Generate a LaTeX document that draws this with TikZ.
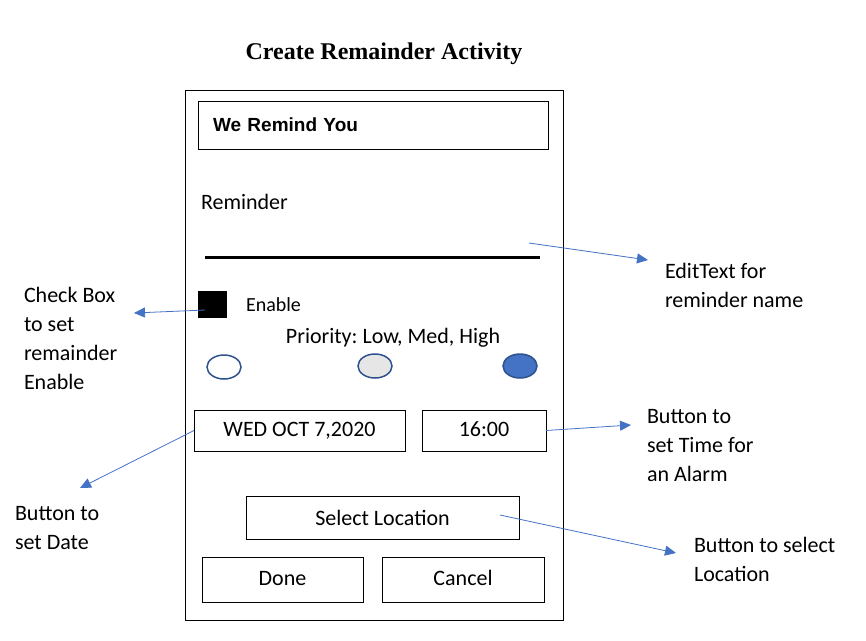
\documentclass[tikz,border=0pt]{standalone}
\usepackage{fontspec}
\setmainfont{Carlito}
\newfontfamily\titlefont{Liberation Serif}
\newfontfamily\headfont{Liberation Sans}
\usetikzlibrary{arrows.meta,shapes.geometric}
\definecolor{accblue}{HTML}{4472C4}
\definecolor{rimblue}{HTML}{2F528F}
\definecolor{radiogray}{HTML}{E7E6E6}
\frenchspacing
\begin{document}
\begin{tikzpicture}[x=1pt,y=-1pt,
  every node/.style={inner sep=0pt, outer sep=0pt},
  uibox/.style={draw=black, line width=1pt, minimum width=#1},
  btntext/.style={font=\fontsize{22}{26}\selectfont},
  lbl/.style={align=left, anchor=west, font=\fontsize{22}{29}\selectfont},
  radio/.style={ellipse, draw=rimblue, line width=1.5pt, minimum width=34pt, minimum height=24pt},
  arr/.style={draw=accblue, line width=0.8pt, -{Triangle[length=11pt,width=10pt]}}
]
\useasboundingbox (0,0) rectangle (866,640);

% title
\node[font=\titlefont\bfseries\fontsize{24}{28}\selectfont] (title) at (384,54) {Create Remainder Activity};

% phone frame
\node[uibox=378pt, minimum height=530pt] (frame) at (374,355) {};

% header box
\node[uibox=350pt, minimum height=48pt, text width=320pt, inner xsep=15pt, align=left,
      font=\headfont\bfseries\fontsize{19}{22}\selectfont] (head) at (373,125) {We Remind You};

\node[btntext, anchor=west] (remtxt) at (201,202) {Reminder};
\coordinate (lineL) at (205,257);
\coordinate (lineR) at (540,257);
\draw[line width=3pt] (lineL) -- (lineR);

% checkbox
\node[draw=black, fill=black, minimum width=28pt, minimum height=26pt] (chk) at (212,304) {};
\node[font=\fontsize{20}{24}\selectfont, anchor=west] (enable) at (246,305) {Enable};
\node[btntext] (prio) at (393,338) {Priority: Low, Med, High};

% radio buttons
\node[radio, fill=white] (r1) at (224,367) {};
\node[radio, fill=radiogray] (r2) at (375,366) {};
\node[radio, fill=accblue] (r3) at (520,366) {};

% buttons
\node[uibox=211pt, minimum height=41pt, btntext, text depth=2pt] (date) at (299.5,430.5) {WED OCT 7,2020};
\node[uibox=124pt, minimum height=41pt, btntext, text depth=2pt] (time) at (484,430.5) {16:00};
\node[uibox=273pt, minimum height=43pt, btntext] (loc) at (382.5,517.5) {Select Location};
\node[uibox=161pt, minimum height=45pt, btntext, text depth=3pt] (done) at (282.5,579.5) {Done};
\node[uibox=162pt, minimum height=45pt, btntext, text depth=3pt] (cancel) at (463,579.5) {Cancel};

% annotation labels
\node[lbl] (lblEdit) at (665,285.5) {EditText for\\reminder name};
\node[lbl] (lblChk) at (24,338) {Check Box\\to set\\remainder\\Enable};
\node[lbl] (lblDate) at (15,528.5) {Button to\\set Date};
\node[lbl] (lblTime) at (647,446) {Button to\\set Time for\\an Alarm};
\node[lbl] (lblLoc) at (694,559.5) {Button to select\\Location};

% arrows
\coordinate (aEditS) at (529,243);
\coordinate (aEditE) at (648,260);
\draw[arr] (aEditS) -- (aEditE);
\coordinate (aChkS) at (205,310);
\coordinate (aChkE) at (134,313);
\draw[arr] (aChkS) -- (aChkE);
\coordinate (aDateE) at (80,488);
\draw[arr] (date.west) -- (aDateE);
\coordinate (aTimeE) at (631,425);
\draw[arr] (time.east) -- (aTimeE);
\coordinate (aLocS) at (500,515);
\coordinate (aLocE) at (676,553);
\draw[arr] (aLocS) -- (aLocE);
\end{tikzpicture}
\end{document}
